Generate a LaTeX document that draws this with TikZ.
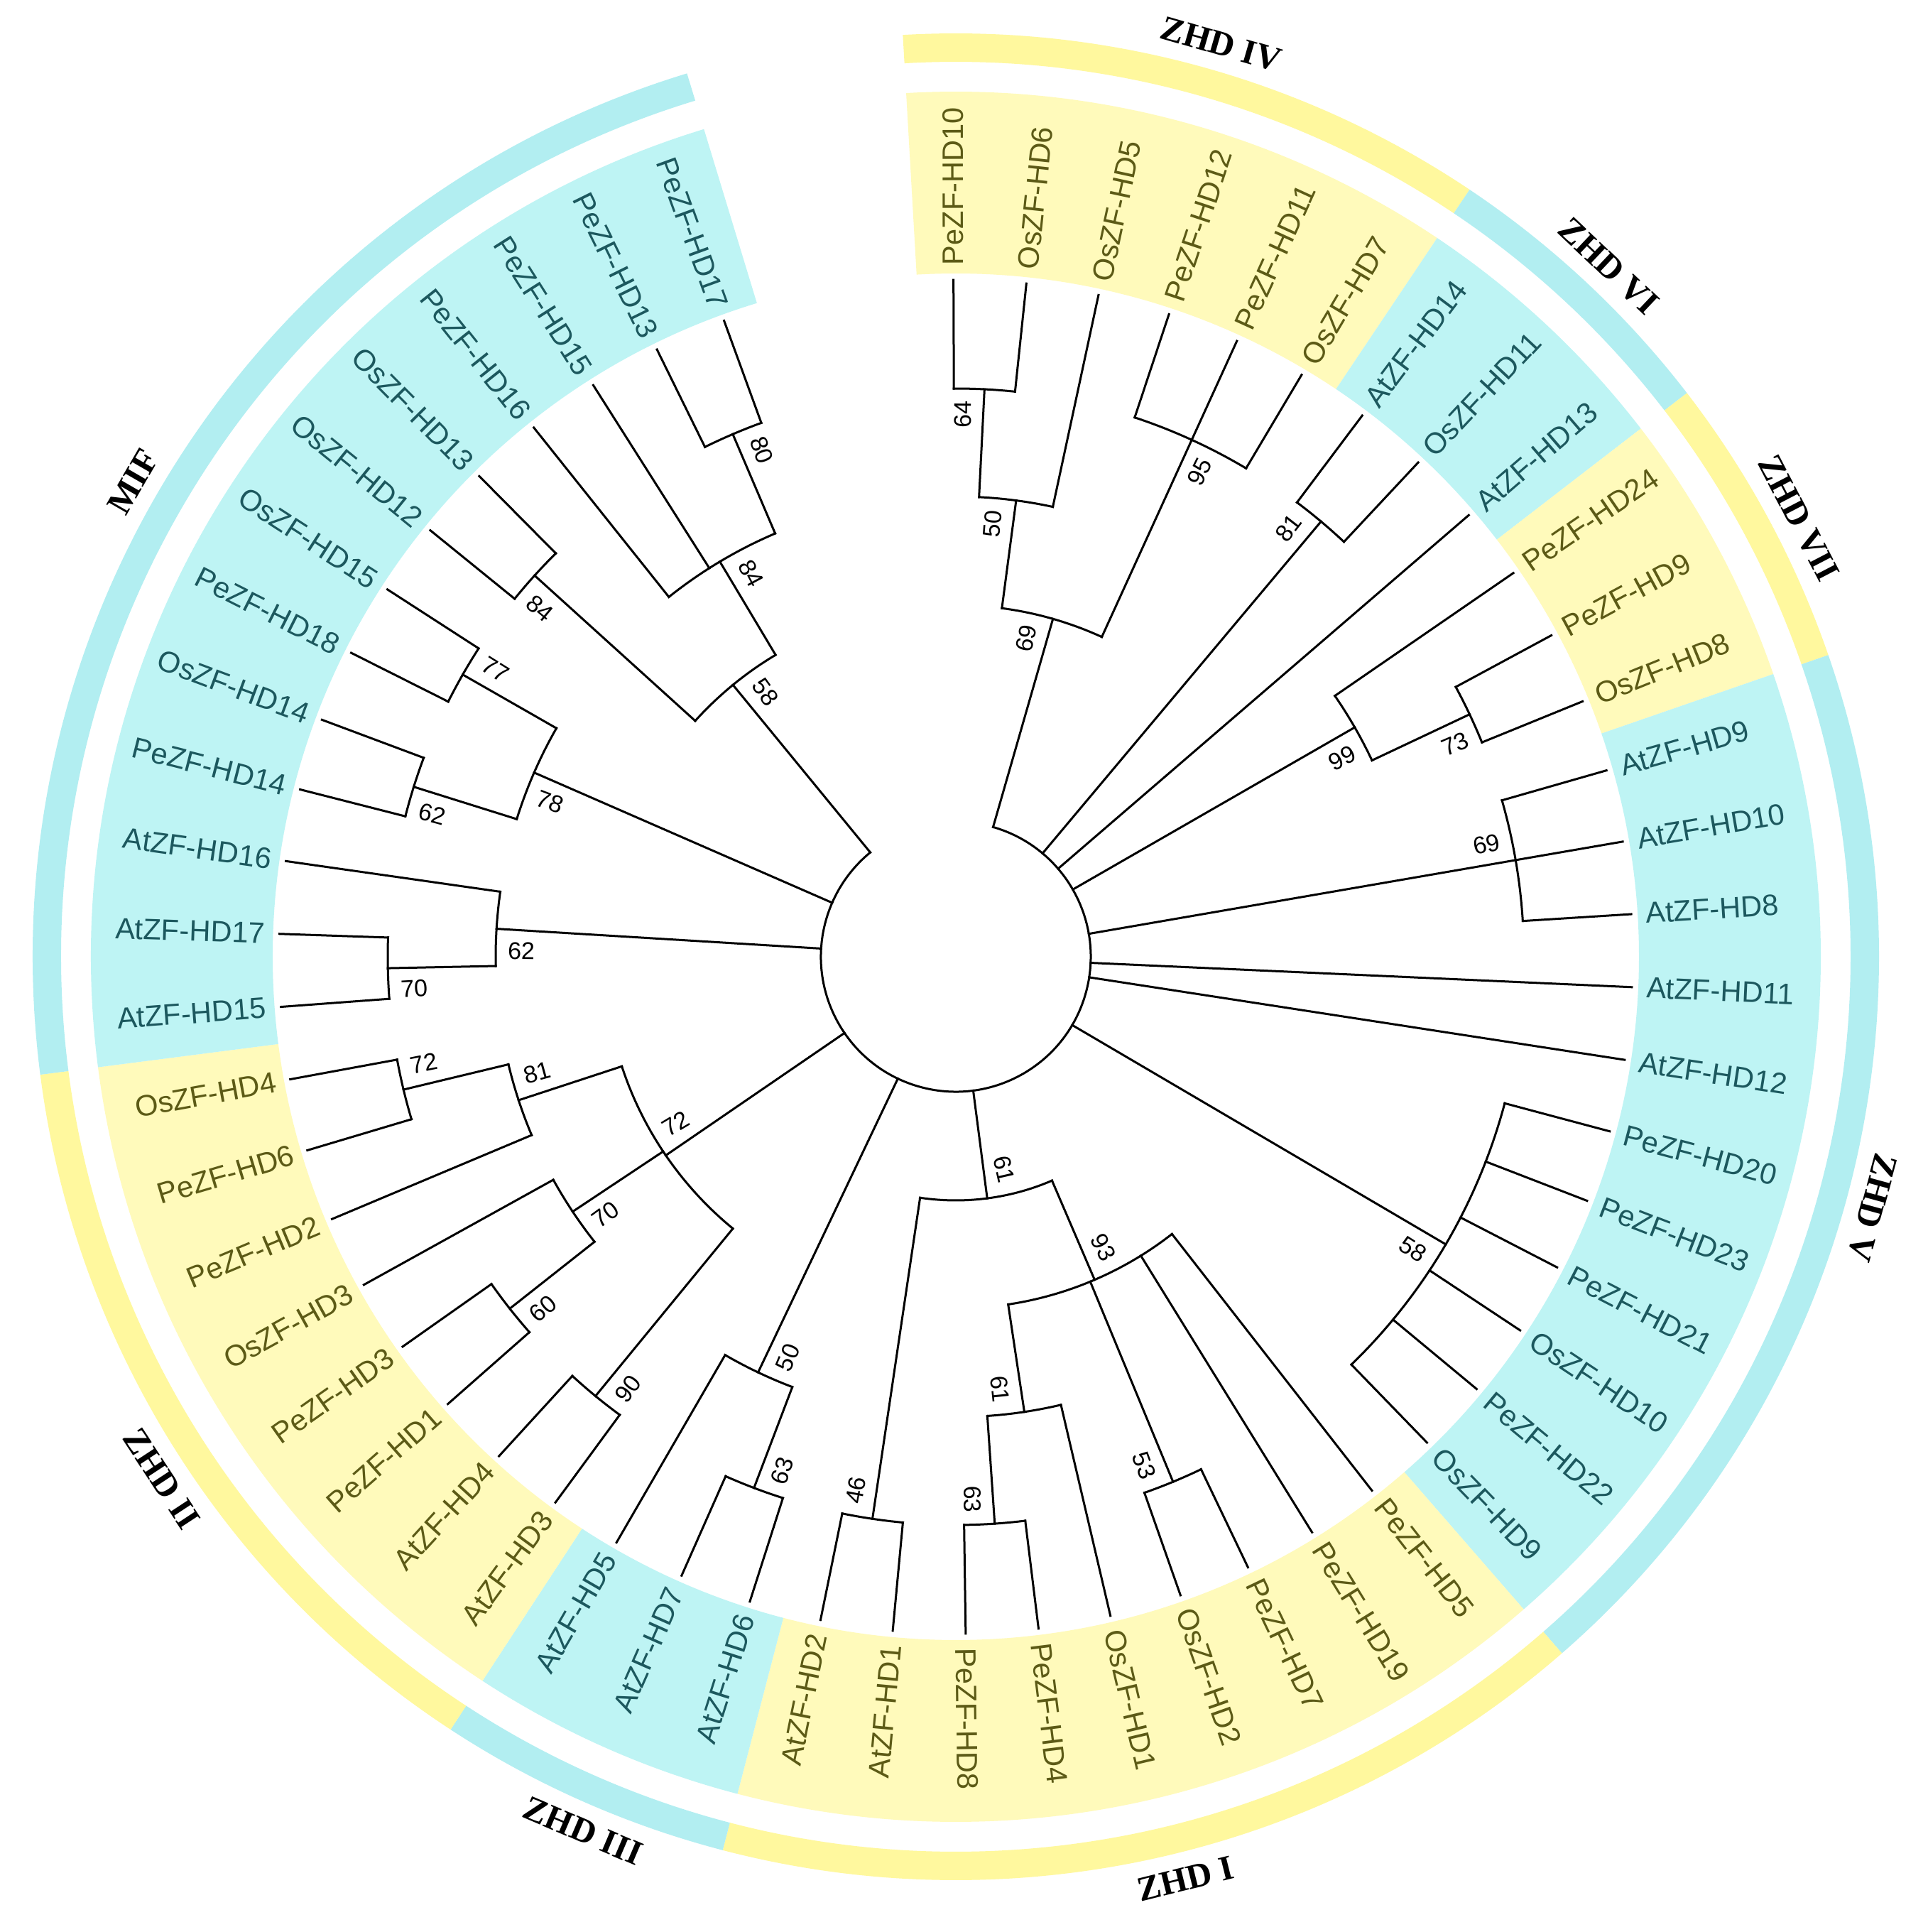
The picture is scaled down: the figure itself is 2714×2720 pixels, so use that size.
\documentclass[tikz,border=0pt]{standalone}
\usepackage{fontspec}
\setmainfont{Liberation Sans}
\newfontfamily\grpfont{Liberation Serif}
\definecolor{bandB}{RGB}{190,244,244}
\definecolor{bandY}{RGB}{255,250,187}
\definecolor{ringB}{RGB}{178,238,241}
\definecolor{ringY}{RGB}{255,248,158}
\definecolor{txtB}{RGB}{28,88,94}
\definecolor{txtY}{RGB}{92,90,22}
\tikzset{
  br/.style={line width=0.75pt,line cap=rect,draw=black},
  leaf/.style={font=\fontsize{10.4}{12}\selectfont,inner sep=0pt},
  bsl/.style={font=\fontsize{8.5}{9.5}\selectfont,inner sep=0pt},
  grp/.style={font=\grpfont\bfseries\fontsize{12.3}{14}\selectfont,inner sep=0pt}
}
\newcommand\arcat[3]{\draw[br] (#1:#3) arc[start angle=#1,end angle=#2,radius=#3];}
\newcommand\rad[3]{\draw[br] (#1:#2) -- (#1:#3);}
\newcommand\sect[5]{\fill[#1] (#2:#4) arc[start angle=#2,end angle=#3,radius=#4] -- (#3:#5) arc[start angle=#3,end angle=#2,radius=#5] -- cycle;}
\newcommand\lfR[4]{\node[leaf,text=#4,rotate=#2,anchor=west] (#1) at (#2:973) {#3};}
\newcommand\lfL[4]{\node[leaf,text=#4,rotate=#2+180,anchor=east] (#1) at (#2:973) {#3};}
\newcommand\bsR[5]{\node[bsl,rotate={#2+#4*1661.6/(#3-36)}] (#1) at ({#2+#4*1661.6/(#3-36)}:{#3-36}) {#5};}
\newcommand\bsL[5]{\node[bsl,rotate={#2+#4*1661.6/(#3-36)+180}] (#1) at ({#2+#4*1661.6/(#3-36)}:{#3-36}) {#5};}
\begin{document}
\begin{tikzpicture}[x=0.25pt,y=0.25pt]
\useasboundingbox (-1346,-1373) rectangle (1368,1347);
\fill[white] (-1346,-1373) rectangle (1368,1347);
% label bands
\sect{bandY}{93.2925}{56.1825}{962}{1218}
\sect{bandB}{56.1825}{37.6275}{962}{1218}
\sect{bandY}{37.6275}{19.0725}{962}{1218}
\sect{bandB}{19.0725}{-48.9625}{962}{1218}
\sect{bandY}{-48.9625}{-104.6275}{962}{1218}
\sect{bandB}{-104.6275}{-123.1825}{962}{1218}
\sect{bandY}{-123.1825}{-172.6625}{962}{1218}
\sect{bandB}{-172.6625}{-253.0675}{962}{1218}
% outer ring
\sect{ringY}{93.2925}{56.1825}{1260}{1300}
\sect{ringB}{56.1825}{37.6275}{1260}{1300}
\sect{ringY}{37.6275}{19.0725}{1260}{1300}
\sect{ringB}{19.0725}{-48.9625}{1260}{1300}
\sect{ringY}{-48.9625}{-104.6275}{1260}{1300}
\sect{ringB}{-104.6275}{-123.1825}{1260}{1300}
\sect{ringY}{-123.1825}{-172.6625}{1260}{1300}
\sect{ringB}{-172.6625}{-253.0675}{1260}{1300}
% ---------- tree ----------
% root
\arcat{73.96}{-230.647}{190}
% ZHD IV
\arcat{90.2}{84.015}{800} \rad{87.1075}{648}{800}
\arcat{87.1075}{77.83}{648} \rad{82.46875}{495}{648}
\arcat{71.645}{59.275}{800} \rad{65.46}{495}{800}
\arcat{82.46875}{65.46}{495} \rad{73.96}{190}{495}
\rad{90.2}{800}{953} \rad{84.015}{800}{953} \rad{77.83}{648}{953}
\rad{71.645}{800}{953} \rad{65.46}{800}{953} \rad{59.275}{800}{953}
% ZHD VI
\arcat{53.09}{46.905}{800} \rad{49.9975}{190}{800}
\rad{53.09}{800}{953} \rad{46.905}{800}{953} \rad{40.72}{190}{953}
% ZHD VII
\arcat{28.35}{22.165}{800} \rad{25.2575}{648}{800}
\arcat{34.535}{25.2575}{648} \rad{29.896}{190}{648}
\rad{34.535}{648}{953} \rad{28.35}{800}{953} \rad{22.165}{800}{953}
% ZHD V
\arcat{15.98}{3.61}{800} \rad{9.795}{190}{800}
\rad{15.98}{800}{953} \rad{9.795}{800}{953} \rad{3.61}{800}{953}
\rad{-2.575}{190}{953} \rad{-8.76}{190}{953}
\arcat{-14.945}{-45.87}{800} \rad{-30.4075}{190}{800}
\rad{-14.945}{800}{953} \rad{-21.13}{800}{953} \rad{-27.315}{800}{953}
\rad{-33.5}{800}{953} \rad{-39.685}{800}{953} \rad{-45.87}{800}{953}
% ZHD I
\arcat{-82.98}{-89.165}{800} \rad{-86.0725}{648}{800}
\arcat{-76.795}{-86.0725}{648} \rad{-81.434}{495}{648}
\arcat{-64.425}{-70.61}{800} \rad{-67.5175}{495}{800}
\arcat{-52.055}{-81.434}{495} \rad{-66.744}{343}{495}
\arcat{-95.35}{-101.535}{800} \rad{-98.4425}{343}{800}
\arcat{-66.744}{-98.4425}{343} \rad{-82.593}{190}{343}
\rad{-52.055}{495}{953} \rad{-58.24}{495}{953} \rad{-64.425}{800}{953}
\rad{-70.61}{800}{953} \rad{-76.795}{648}{953} \rad{-82.98}{800}{953}
\rad{-89.165}{800}{953} \rad{-95.35}{800}{953} \rad{-101.535}{800}{953}
% ZHD III
\arcat{-107.72}{-113.905}{800} \rad{-110.8125}{648}{800}
\arcat{-110.8125}{-120.09}{648} \rad{-115.451}{190}{648}
\rad{-107.72}{800}{953} \rad{-113.905}{800}{953} \rad{-120.09}{648}{953}
% ZHD II
\arcat{-126.275}{-132.46}{800} \rad{-129.3675}{495}{800}
\arcat{-138.645}{-144.83}{800} \rad{-141.7375}{648}{800}
\arcat{-141.7375}{-151.015}{648} \rad{-146.376}{495}{648}
\arcat{-163.385}{-169.57}{800} \rad{-166.4775}{648}{800}
\arcat{-157.2}{-166.4775}{648} \rad{-161.839}{495}{648}
\arcat{-129.3675}{-161.839}{495} \rad{-145.603}{190}{495}
\rad{-126.275}{800}{953} \rad{-132.46}{800}{953} \rad{-138.645}{800}{953}
\rad{-144.83}{800}{953} \rad{-151.015}{648}{953} \rad{-157.2}{648}{953}
\rad{-163.385}{800}{953} \rad{-169.57}{800}{953}
% MIF
\arcat{-175.755}{-181.94}{800} \rad{-178.8475}{648}{800}
\arcat{-178.8475}{-188.125}{648} \rad{-183.486}{190}{648}
\arcat{-194.31}{-200.495}{800} \rad{-197.4025}{648}{800}
\arcat{-206.68}{-212.865}{800} \rad{-209.7725}{648}{800}
\arcat{-197.4025}{-209.7725}{648} \rad{-203.5875}{190}{648}
\arcat{-219.05}{-225.235}{800} \rad{-222.1425}{495}{800}
\arcat{-243.79}{-249.975}{800} \rad{-246.8825}{648}{800}
\arcat{-231.42}{-246.8825}{648} \rad{-239.151}{495}{648}
\arcat{-222.1425}{-239.151}{495} \rad{-230.647}{190}{495}
\rad{-175.755}{800}{953} \rad{-181.94}{800}{953} \rad{-188.125}{648}{953}
\rad{-194.31}{800}{953} \rad{-200.495}{800}{953} \rad{-206.68}{800}{953}
\rad{-212.865}{800}{953} \rad{-219.05}{800}{953} \rad{-225.235}{800}{953}
\rad{-231.42}{648}{953} \rad{-237.605}{648}{953} \rad{-243.79}{800}{953}
\rad{-249.975}{800}{953}
% ---------- bootstrap values ----------
\bsR{b1}{87.1075}{800}{1}{64}
\bsR{b2}{82.46875}{648}{1}{50}
\bsR{b3}{73.96}{495}{1}{69}
\bsR{b4}{65.46}{800}{(-1)}{95}
\bsR{b5}{49.9975}{800}{1}{81}
\bsR{b6}{29.896}{648}{(-1)}{99}
\bsR{b7}{25.2575}{800}{(-1)}{73}
\bsR{b8}{9.795}{800}{1}{69}
\bsR{b9}{-30.4075}{800}{(-1)}{58}
\bsR{b10}{-82.593}{343}{1}{61}
\bsR{b11}{-66.744}{495}{1}{93}
\bsR{b12}{-81.434}{648}{(-1)}{61}
\bsR{b13}{-86.0725}{800}{(-1)}{63}
\bsR{b14}{-67.5175}{800}{(-1)}{53}
\bsL{b15}{-98.4425}{800}{(-1)}{46}
\bsL{b16}{-110.8125}{800}{1}{63}
\bsL{b17}{-115.451}{648}{1}{50}
\bsL{b18}{-129.3675}{800}{1}{90}
\bsL{b19}{-141.7375}{800}{1}{60}
\bsL{b20}{-146.376}{648}{1}{70}
\bsL{b21}{-145.603}{495}{(-1)}{72}
\bsL{b22}{-161.839}{648}{(-1)}{81}
\bsL{b23}{-166.4775}{800}{(-1)}{72}
\bsL{b24}{-178.8475}{800}{1}{70}
\bsL{b25}{-183.486}{648}{1}{62}
\bsL{b26}{-197.4025}{800}{1}{62}
\bsL{b27}{-203.5875}{648}{1}{78}
\bsL{b28}{-209.7725}{800}{(-1)}{77}
\bsL{b29}{-222.1425}{800}{1}{84}
\bsL{b30}{-230.647}{495}{(-1)}{58}
\bsL{b31}{-239.151}{648}{(-1)}{84}
\bsL{b32}{-246.8825}{800}{(-1)}{80}
% ---------- leaf labels ----------
\lfR{l0}{90.2}{PeZF-HD10}{txtY}
\lfR{l1}{84.015}{OsZF-HD6}{txtY}
\lfR{l2}{77.83}{OsZF-HD5}{txtY}
\lfR{l3}{71.645}{PeZF-HD12}{txtY}
\lfR{l4}{65.46}{PeZF-HD11}{txtY}
\lfR{l5}{59.275}{OsZF-HD7}{txtY}
\lfR{l6}{53.09}{AtZF-HD14}{txtB}
\lfR{l7}{46.905}{OsZF-HD11}{txtB}
\lfR{l8}{40.72}{AtZF-HD13}{txtB}
\lfR{l9}{34.535}{PeZF-HD24}{txtY}
\lfR{l10}{28.35}{PeZF-HD9}{txtY}
\lfR{l11}{22.165}{OsZF-HD8}{txtY}
\lfR{l12}{15.98}{AtZF-HD9}{txtB}
\lfR{l13}{9.795}{AtZF-HD10}{txtB}
\lfR{l14}{3.61}{AtZF-HD8}{txtB}
\lfR{l15}{-2.575}{AtZF-HD11}{txtB}
\lfR{l16}{-8.76}{AtZF-HD12}{txtB}
\lfR{l17}{-14.945}{PeZF-HD20}{txtB}
\lfR{l18}{-21.13}{PeZF-HD23}{txtB}
\lfR{l19}{-27.315}{PeZF-HD21}{txtB}
\lfR{l20}{-33.5}{OsZF-HD10}{txtB}
\lfR{l21}{-39.685}{PeZF-HD22}{txtB}
\lfR{l22}{-45.87}{OsZF-HD9}{txtB}
\lfR{l23}{-52.055}{PeZF-HD5}{txtY}
\lfR{l24}{-58.24}{PeZF-HD19}{txtY}
\lfR{l25}{-64.425}{PeZF-HD7}{txtY}
\lfR{l26}{-70.61}{OsZF-HD2}{txtY}
\lfR{l27}{-76.795}{OsZF-HD1}{txtY}
\lfR{l28}{-82.98}{PeZF-HD4}{txtY}
\lfR{l29}{-89.165}{PeZF-HD8}{txtY}
\lfL{l30}{-95.35}{AtZF-HD1}{txtY}
\lfL{l31}{-101.535}{AtZF-HD2}{txtY}
\lfL{l32}{-107.72}{AtZF-HD6}{txtB}
\lfL{l33}{-113.905}{AtZF-HD7}{txtB}
\lfL{l34}{-120.09}{AtZF-HD5}{txtB}
\lfL{l35}{-126.275}{AtZF-HD3}{txtY}
\lfL{l36}{-132.46}{AtZF-HD4}{txtY}
\lfL{l37}{-138.645}{PeZF-HD1}{txtY}
\lfL{l38}{-144.83}{PeZF-HD3}{txtY}
\lfL{l39}{-151.015}{OsZF-HD3}{txtY}
\lfL{l40}{-157.2}{PeZF-HD2}{txtY}
\lfL{l41}{-163.385}{PeZF-HD6}{txtY}
\lfL{l42}{-169.57}{OsZF-HD4}{txtY}
\lfL{l43}{-175.755}{AtZF-HD15}{txtB}
\lfL{l44}{-181.94}{AtZF-HD17}{txtB}
\lfL{l45}{-188.125}{AtZF-HD16}{txtB}
\lfL{l46}{-194.31}{PeZF-HD14}{txtB}
\lfL{l47}{-200.495}{OsZF-HD14}{txtB}
\lfL{l48}{-206.68}{PeZF-HD18}{txtB}
\lfL{l49}{-212.865}{OsZF-HD15}{txtB}
\lfL{l50}{-219.05}{OsZF-HD12}{txtB}
\lfL{l51}{-225.235}{OsZF-HD13}{txtB}
\lfL{l52}{-231.42}{PeZF-HD16}{txtB}
\lfL{l53}{-237.605}{PeZF-HD15}{txtB}
\lfL{l54}{-243.79}{PeZF-HD13}{txtB}
\lfL{l55}{-249.975}{PeZF-HD17}{txtB}
% ---------- group labels ----------
\node[grp,rotate=-16.2] (g4) at (73.8:1338) {ZHD IV};
\node[grp,rotate=-43.4] (g6) at (46.6:1338) {ZHD VI};
\node[grp,rotate=-62.5] (g7) at (27.5:1338) {ZHD VII};
\node[grp,rotate=-105.3] (g5) at (-15.3:1338) {ZHD V};
\node[grp,rotate=14] (g1) at (-76:1338) {ZHD I};
\node[grp,rotate=-23.1] (g3) at (-113.1:1338) {ZHD III};
\node[grp,rotate=-56.7] (g2) at (-146.7:1338) {ZHD II};
\node[grp,rotate=60] (gm) at (150:1338) {MIF};
\end{tikzpicture}
\end{document}
